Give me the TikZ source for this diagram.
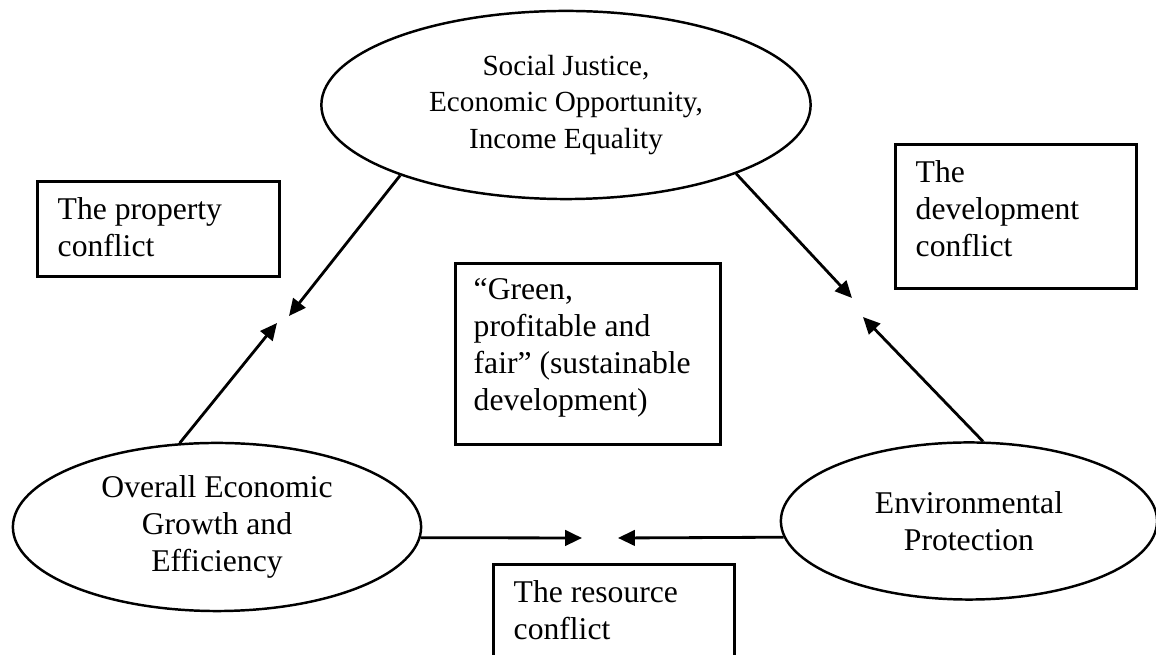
\documentclass[tikz,border=0pt]{standalone}
\usepackage{fontspec}
\setmainfont{Liberation Serif}
\usetikzlibrary{shapes.geometric,arrows.meta}
\begin{document}
\begin{tikzpicture}[x=0.01cm,y=-0.01cm,
  goal/.style={ellipse,draw,line width=.7pt,inner sep=0pt,align=center,font=\fontsize{9}{10.5}\selectfont},
  conflict/.style={rectangle,draw,line width=.8pt,inner sep=0pt,anchor=north west},
  boxtext/.style={anchor=north west,inner sep=0pt,align=left,font=\fontsize{9}{10.5}\selectfont},
  push/.style={-{Triangle[length=4.8pt,width=4.4pt]},line width=.8pt}]
\useasboundingbox (0,0) rectangle (1156,655);
\node[goal,minimum width=4.89cm,minimum height=1.88cm,font=\fontsize{8.3}{10.4}\selectfont] (social) at (566,105)
  {Social Justice,\\Economic Opportunity,\\Income Equality};
\node[goal,minimum width=4.08cm,minimum height=1.68cm] (growth) at (217,527)
  {Overall Economic\\Growth and\\Efficiency};
\node[goal,minimum width=3.76cm,minimum height=1.57cm] (environment) at (969,521)
  {Environmental\\Protection};
\node[conflict,minimum width=2.42cm,minimum height=.95cm] (property) at (36,180) {};
\node[conflict,minimum width=2.41cm,minimum height=1.44cm] (development) at (894,143) {};
\node[conflict,minimum width=2.65cm,minimum height=1.81cm] (green) at (454,262) {};
\node[conflict,minimum width=2.41cm,minimum height=1.2cm] (resource) at (492,563) {};
\node[boxtext] (propertytext) at ([shift={(21,17)}]property.north west) {The property\\conflict};
\node[boxtext] (developmenttext) at ([shift={(21,17)}]development.north west) {The\\development\\conflict};
\node[boxtext] (greentext) at ([shift={(19,16)}]green.north west) {``Green,\\profitable and\\fair'' (sustainable\\development)};
\node[boxtext] (resourcetext) at ([shift={(21,17)}]resource.north west) {The resource\\conflict};
\coordinate (propA) at (289,316);
\coordinate (propB) at (277,323);
\coordinate (devA) at (852,298);
\coordinate (devB) at (863,317);
\coordinate (resA) at (582,538);
\coordinate (resB) at (618,538);
\draw[push] (social.203) -- (propA);
\draw[push] (growth.114) -- (propB);
\draw[push] (social.-22) -- (devA);
\draw[push] (environment.80) -- (devB);
\draw[push] (growth.-3) -- (resA);
\draw[push] (environment.185) -- (resB);
\end{tikzpicture}
\end{document}
